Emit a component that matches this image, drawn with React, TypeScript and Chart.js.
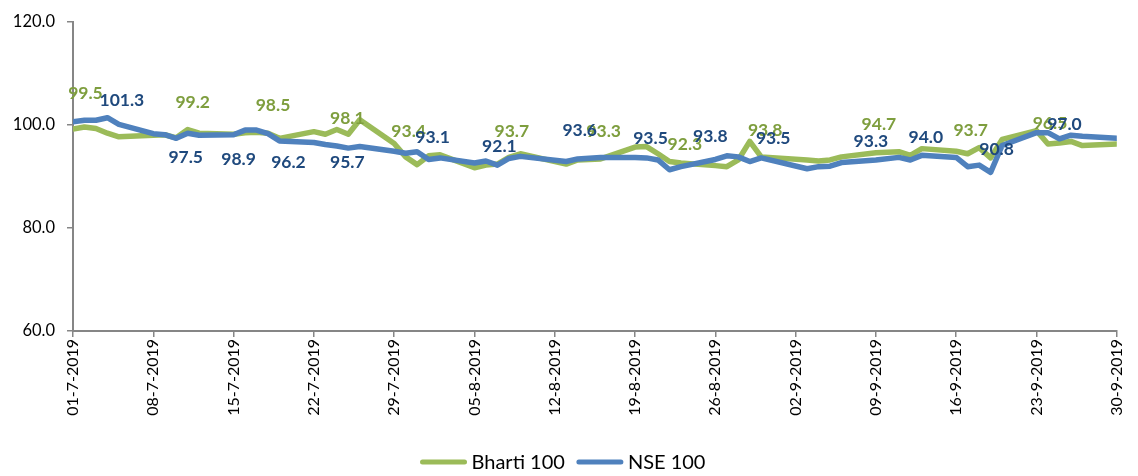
import React, { useEffect, useRef } from 'react';
import { Chart, registerables } from 'chart.js';

Chart.register(...registerables);

// ---- DATA ----
const tradingDates = [
  '01-7-2019', '02-7-2019', '03-7-2019', '04-7-2019', '05-7-2019', '08-7-2019', '09-7-2019', '10-7-2019',
  '11-7-2019', '12-7-2019', '15-7-2019', '16-7-2019', '17-7-2019', '18-7-2019', '19-7-2019', '22-7-2019',
  '23-7-2019', '24-7-2019', '25-7-2019', '26-7-2019', '29-7-2019', '30-7-2019', '31-7-2019',
  '01-8-2019', '02-8-2019', '05-8-2019', '06-8-2019', '07-8-2019', '08-8-2019', '09-8-2019', '13-8-2019',
  '14-8-2019', '16-8-2019', '19-8-2019', '20-8-2019', '21-8-2019', '22-8-2019', '23-8-2019', '26-8-2019',
  '27-8-2019', '28-8-2019', '29-8-2019', '30-8-2019',
  '03-9-2019', '04-9-2019', '05-9-2019', '06-9-2019', '09-9-2019', '11-9-2019', '12-9-2019', '13-9-2019',
  '16-9-2019', '17-9-2019', '18-9-2019', '19-9-2019', '20-9-2019', '23-9-2019', '24-9-2019', '25-9-2019',
  '26-9-2019', '27-9-2019', '30-9-2019',
];

const bharti100 = [
  99.2, 99.6, 99.3, 98.4, 97.7, 98.0, 98.1, 97.5, 99.1, 98.4, 98.2, 98.5, 98.6, 98.4, 97.4, 98.7,
  98.2, 99.1, 98.2, 101.0, 96.4, 93.8, 92.3,
  94.0, 94.2, 91.7, 92.2, 92.4, 93.7, 94.4, 92.4, 93.2, 93.4, 95.7, 95.8, 94.4, 92.9, 92.6, 92.1,
  91.9, 93.2, 96.8, 93.8,
  93.2, 93.0, 93.2, 93.8, 94.6, 94.8, 94.1, 95.4, 94.9, 94.4, 95.6, 93.6, 97.2, 98.9, 96.3, 96.5,
  96.8, 96.0, 96.3,
];

const nse100 = [
  100.6, 100.9, 100.9, 101.4, 100.1, 98.3, 98.1, 97.4, 98.4, 98.0, 98.1, 99.0, 99.0, 98.3, 96.9, 96.6,
  96.2, 95.9, 95.5, 95.8, 94.9, 94.5, 94.8,
  93.3, 93.6, 92.6, 93.0, 92.2, 93.5, 93.9, 92.9, 93.4, 93.7, 93.7, 93.6, 93.2, 91.3, 91.9, 93.3,
  94.0, 93.8, 92.9, 93.6,
  91.5, 91.9, 92.0, 92.7, 93.2, 93.7, 93.2, 94.1, 93.7, 91.9, 92.2, 90.8, 96.0, 98.5, 98.5, 97.3,
  98.0, 97.8, 97.4,
];

const xTickLabels = [
  '01-7-2019', '08-7-2019', '15-7-2019', '22-7-2019', '29-7-2019', '05-8-2019', '12-8-2019',
  '19-8-2019', '26-8-2019', '02-9-2019', '09-9-2019', '16-9-2019', '23-9-2019', '30-9-2019',
];

const yTicks = [60, 80, 100, 120];

// data labels shown on the chart
const bhartiLabelDates = [
  '02-7-2019', '11-7-2019', '18-7-2019', '25-7-2019', '30-7-2019', '08-8-2019', '16-8-2019',
  '23-8-2019', '30-8-2019', '09-9-2019', '17-9-2019', '24-9-2019',
];
const bhartiLabelValues = [99.5, 99.2, 98.5, 98.1, 93.4, 93.7, 93.3, 92.3, 93.8, 94.7, 93.7, 96.5];

const nseLabelDates = [
  '05-7-2019', '11-7-2019', '15-7-2019', '19-7-2019', '25-7-2019', '01-8-2019', '07-8-2019',
  '14-8-2019', '20-8-2019', '26-8-2019', '30-8-2019', '09-9-2019', '13-9-2019', '19-9-2019',
  '25-9-2019',
];
const nseLabelValues = [101.3, 97.5, 98.9, 96.2, 95.7, 93.1, 92.1, 93.6, 93.5, 93.8, 93.5, 93.3, 94.0, 90.8, 97.0];

// ---- STYLE ----
const GREEN = '#9BBB59';
const BLUE = '#4F81BD';
const GREEN_TEXT = '#7E9E3E';
const BLUE_TEXT = '#1F497D';
const AXIS = '#868686';
const FONT = 'Lato, "Open Sans", sans-serif';

// label placement offsets in px relative to the anchored point [dx, dy]
const bhartiLabelOffsets = [
  [1, -34], [5, -27], [5, -28], [-1, -16], [3, -26], [3, -26], [3, -28], [4, -19], [4, -27], [3, -28], [3, -23], [2, -21],
];
const nseLabelOffsets = [
  [3, -24], [-2, 24], [5, 25], [9, 21], [-1, 14], [4, -22], [2, -19], [2, -29], [4, -20], [-5, -23], [12, -20],
  [-5, -19], [4, -18], [6, -23], [5, -14],
];

function dayIndex(s: string): number {
  const [d, m, y] = s.split('-').map(Number);
  const [d0, m0, y0] = tradingDates[0].split('-').map(Number);
  return Math.round((Date.UTC(y, m - 1, d) - Date.UTC(y0, m0 - 1, d0)) / 86400000);
}

const labelPlugin = {
  id: 'pointLabels',
  afterDatasetsDraw(chart: any) {
    const ctx = chart.ctx;
    const groups = [
      { ds: 0, dates: bhartiLabelDates, values: bhartiLabelValues, offs: bhartiLabelOffsets, color: GREEN_TEXT },
      { ds: 1, dates: nseLabelDates, values: nseLabelValues, offs: nseLabelOffsets, color: BLUE_TEXT },
    ];
    ctx.save();
    ctx.font = `bold 17.5px ${FONT}`;
    ctx.textAlign = 'center';
    ctx.textBaseline = 'middle';
    for (const g of groups) {
      const meta = chart.getDatasetMeta(g.ds);
      ctx.fillStyle = g.color;
      g.dates.forEach((d, i) => {
        const idx = tradingDates.indexOf(d);
        const el = meta.data[idx];
        if (!el) return;
        const [dx, dy] = g.offs[i];
        ctx.fillText(g.values[i].toFixed(1), el.x + dx, el.y + dy);
      });
    }
    ctx.restore();
  },
};

const legendPlugin = {
  id: 'customLegend',
  afterDraw(chart: any) {
    const ctx = chart.ctx;
    const sample = 46;
    const gap = 5;
    const itemGap = 12;
    const y = 462;
    ctx.save();
    ctx.font = `20px ${FONT}`;
    ctx.textBaseline = 'middle';
    ctx.textAlign = 'left';
    const items = chart.data.datasets.map((ds: any) => ({
      text: ds.label,
      color: ds.borderColor,
      w: ctx.measureText(ds.label).width,
    }));
    const total = items.reduce((a: number, it: any) => a + sample + gap + it.w, 0) + itemGap * (items.length - 1);
    let x = chart.width / 2 - total / 2 - 6;
    for (const it of items) {
      ctx.strokeStyle = it.color;
      ctx.lineWidth = 5;
      ctx.lineCap = 'round';
      ctx.beginPath();
      ctx.moveTo(x + 2, y);
      ctx.lineTo(x + sample - 2, y);
      ctx.stroke();
      ctx.fillStyle = '#000';
      ctx.fillText(it.text, x + sample + gap, y + 1);
      x += sample + gap + it.w + itemGap;
    }
    ctx.restore();
  },
};

export default function App() {
  const ref = useRef<HTMLCanvasElement>(null);
  useEffect(() => {
    const canvas = ref.current;
    if (!canvas) return;
    const chart = new Chart(canvas, {
      type: 'line',
      data: {
        datasets: [
          {
            label: 'Bharti 100',
            data: tradingDates.map((d, i) => ({ x: dayIndex(d), y: bharti100[i] })),
            borderColor: GREEN,
            backgroundColor: GREEN,
            borderWidth: 5.5,
            pointRadius: 0,
            tension: 0,
            borderJoinStyle: 'round',
            borderCapStyle: 'round',
            order: 1,
          },
          {
            label: 'NSE 100',
            data: tradingDates.map((d, i) => ({ x: dayIndex(d), y: nse100[i] })),
            borderColor: BLUE,
            backgroundColor: BLUE,
            borderWidth: 5.5,
            pointRadius: 0,
            tension: 0,
            borderJoinStyle: 'round',
            borderCapStyle: 'round',
            order: 0,
          },
        ],
      },
      options: {
        animation: false,
        responsive: true,
        maintainAspectRatio: false,
        layout: { padding: { left: 0, right: 12, top: 14, bottom: 0 } },
        plugins: { legend: { display: false }, tooltip: { enabled: false } },
        scales: {
          x: {
            type: 'linear',
            min: 0,
            max: dayIndex(xTickLabels[xTickLabels.length - 1]),
            afterBuildTicks: (s: any) => {
              s.ticks = xTickLabels.map((l) => ({ value: dayIndex(l) }));
            },
            afterFit: (s: any) => {
              s.height = 145;
            },
            ticks: {
              autoSkip: false,
              minRotation: 90,
              maxRotation: 90,
              padding: 2,
              color: '#000',
              font: { family: FONT, size: 16 },
              callback: (v: any) => {
                const i = xTickLabels.findIndex((l) => dayIndex(l) === Math.round(Number(v)));
                return i >= 0 ? xTickLabels[i] : '';
              },
            },
            grid: { drawOnChartArea: false, drawTicks: true, tickLength: 6, color: AXIS, lineWidth: 1.5 },
            border: { color: AXIS, width: 2 },
          },
          y: {
            min: yTicks[0],
            max: yTicks[yTicks.length - 1],
            afterBuildTicks: (s: any) => {
              s.ticks = yTicks.map((v) => ({ value: v }));
            },
            afterFit: (s: any) => {
              s.width = 73;
            },
            ticks: {
              padding: 12,
              color: '#000',
              font: { family: FONT, size: 16.5 },
              callback: (v: any) => Number(v).toFixed(1),
            },
            grid: { drawOnChartArea: false, drawTicks: true, tickLength: 6, color: AXIS, lineWidth: 1.5 },
            border: { color: AXIS, width: 2 },
          },
        },
      } as any,
      plugins: [labelPlugin, legendPlugin],
    });
    return () => chart.destroy();
  }, []);
  return (
    <div style={{ position: 'absolute', left: 0, top: 0, width: 1138, height: 476, background: '#fff' }}>
      <canvas ref={ref} />
    </div>
  );
}
